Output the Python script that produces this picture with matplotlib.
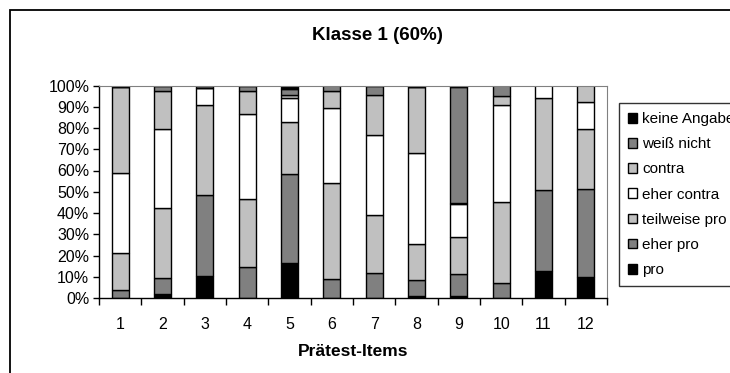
import matplotlib.pyplot as plt
from matplotlib.patches import Rectangle
import numpy as np

plt.rcParams["font.family"] = ["Liberation Sans", "DejaVu Sans"]

items = [str(i) for i in range(1, 13)]

# percent per answer category, bottom to top
pro = [0, 1.9, 10.2, 0, 16.5, 0, 0, 0.9, 0.9, 0, 12.6, 9.9]
eher_pro = [3.9, 7.5, 38.2, 14.6, 41.7, 8.8, 11.8, 7.4, 10.3, 7.2, 38.2, 41.4]
teilweise_pro = [17.5, 33.1, 42.5, 31.8, 24.8, 45.1, 27.2, 17.0, 17.6, 37.9, 43.5, 28.1]
eher_contra = [37.2, 37.1, 7.8, 40.1, 11.0, 35.3, 37.7, 42.9, 15.4, 45.8, 5.7, 12.7]
contra = [40.6, 18.0, 0, 11.1, 1.3, 8.4, 18.9, 31.3, 0.5, 4.2, 0, 7.9]
weiss_nicht = [0, 2.4, 1.3, 2.4, 3.1, 2.4, 4.4, 0, 54.5, 4.9, 0, 0]
keine_angabe = [0.8, 0, 0, 0, 1.6, 0, 0, 0.5, 0.8, 0, 0, 0]

series = [
    ("pro", pro, "#000000"),
    ("eher pro", eher_pro, "#808080"),
    ("teilweise pro", teilweise_pro, "#c0c0c0"),
    ("eher contra", eher_contra, "#ffffff"),
    ("contra", contra, "#c0c0c0"),
    ("weiß nicht", weiss_nicht, "#808080"),
    ("keine Angabe", keine_angabe, "#000000"),
]

W, H = 730, 373
fig = plt.figure(figsize=(W / 100, H / 100), dpi=100)
ax = fig.add_axes([99 / W, 1 - 298 / H, (607 - 99) / W, (298 - 85.5) / H])

x = np.arange(len(items))
bottom = np.zeros(len(items))
handles = []
for name, vals, color in series:
    vals = np.array(vals, dtype=float)
    bars = ax.bar(x, vals, width=0.4, bottom=bottom, color=color,
                  edgecolor="black", linewidth=1.0, label=name)
    handles.append(bars)
    bottom += vals

ax.set_xlim(-0.5, len(items) - 0.5)
ax.set_ylim(0, 100)
ax.set_yticks(np.arange(0, 101, 10))
ax.set_yticklabels([f"{v}%" for v in range(0, 101, 10)], fontsize=11.5)
ax.set_xticks(x)
ax.set_xticklabels(items, fontsize=11.5)
ax.tick_params(axis="x", length=0, pad=14)
ax.set_xticks(np.arange(-0.5, len(items)), minor=True)
ax.tick_params(axis="x", which="minor", length=5, width=1, direction="out")
ax.tick_params(axis="y", length=4, width=1, direction="out", pad=3)

for s in ("top", "right"):
    ax.spines[s].set_color("#808080")
for s in ("left", "bottom"):
    ax.spines[s].set_color("black")
    ax.spines[s].set_linewidth(1.0)

fig.text(377 / W, 1 - 35 / H, "Klasse 1 (60%)", ha="center", va="center",
         fontsize=13.5, fontweight="bold")
fig.text(353 / W, 1 - 352 / H, "Prätest-Items", ha="center", va="center",
         fontsize=12.5, fontweight="bold")

leg = fig.legend(handles[::-1], [s[0] for s in series][::-1],
                 loc="upper left", bbox_to_anchor=(619 / W, 1 - 103 / H),
                 bbox_transform=fig.transFigure, fontsize=11, frameon=True,
                 fancybox=False, borderaxespad=0, handlelength=0.6,
                 handleheight=0.6, handletextpad=0.3, labelspacing=0.73,
                 borderpad=0.6)
leg.get_frame().set_edgecolor("black")
leg.get_frame().set_linewidth(1.0)

# outer chart border (clipped on right and bottom)
fig.patches.append(Rectangle((10 / W, -0.5), 2, 1.5 - 10 / H, transform=fig.transFigure,
                             fill=False, edgecolor="black", linewidth=1.3))

fig.savefig("out.png", dpi=100)
